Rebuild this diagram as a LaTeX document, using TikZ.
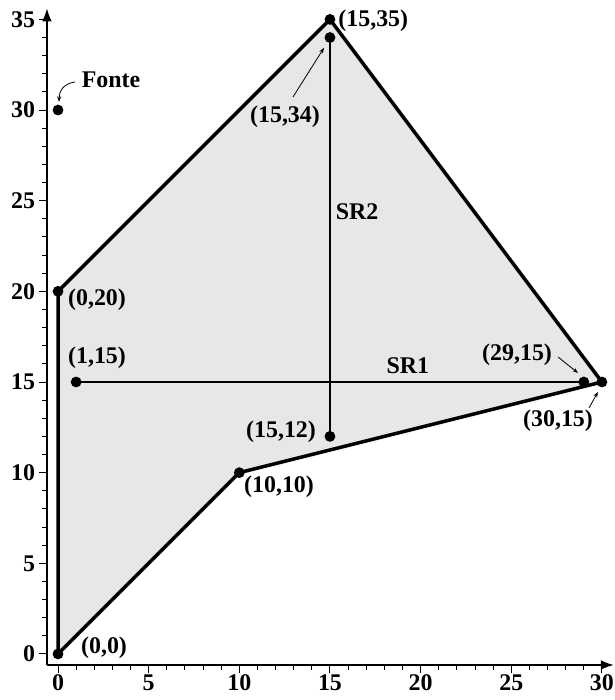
\documentclass[tikz,border=0pt]{standalone}
\usepackage{fontspec}
\setmainfont{Liberation Serif}
\usetikzlibrary{arrows.meta}
\definecolor{regiongray}{RGB}{230,231,232}
\tikzset{
  dot/.style={circle,fill=black,inner sep=0pt,minimum size=6.8pt},
  lbl/.style={font=\fontsize{15}{18}\selectfont\bfseries,inner sep=0pt},
  edge/.style={line width=2.2pt,line join=round},
  ray/.style={line width=1.2pt},
  pointer/.style={line width=0.5pt,-{Stealth[length=3.5pt,width=2.6pt]}},
  axis/.style={line width=0.8pt,-{Latex[length=8pt,width=6pt]}},
  majtick/.style={line width=0.6pt},
}
\begin{document}
\begin{tikzpicture}[x=0.4cm,y=0.4cm]
\useasboundingbox (-3.2,-2.54) rectangle (30.67,36.07);
% polygon corners
\coordinate (P0) at (0,0);
\coordinate (P1) at (0,20);
\coordinate (P2) at (15,35);
\coordinate (P3) at (30,15);
\coordinate (P4) at (10,10);
\fill[regiongray] (P0) -- (P1) -- (P2) -- (P3) -- (P4) -- cycle;
% axes
\coordinate (corner) at (-0.61,-0.61);
\coordinate (ytop) at (-0.61,35.6);
\coordinate (xend) at (30.65,-0.61);
\draw[axis] (corner) -- (ytop);
\draw[axis] (corner) -- (xend);
\foreach \i in {0,...,35}{\draw[majtick] (-0.61,\i) -- (-0.86,\i);}
\foreach \i in {0,5,...,35}{\draw[majtick] (-0.61,\i) -- (-1.05,\i);
  \node[lbl,anchor=east] (yl\i) at (-1.25,\i) {\i};}
\foreach \i in {0,...,29}{\draw[majtick] (\i,-0.61) -- (\i,-0.86);}
\foreach \i in {0,5,...,30}{\draw[majtick] (\i,-0.61) -- (\i,-1.05);
  \node[lbl] (xl\i) at (\i,-1.6) {\i};}
% polygon outline
\draw[edge] (P0) -- (P1) -- (P2) -- (P3) -- (P4) -- cycle;
% rays
\node[dot] (d115) at (1,15) {};
\node[dot] (d2915) at (29,15) {};
\node[dot] (d1534) at (15,34) {};
\node[dot] (d1512) at (15,12) {};
\draw[ray] (d115.center) -- (d2915.center);
\draw[ray] (d1534.center) -- (d1512.center);
% corner dots
\node[dot] (d00) at (P0) {};
\node[dot] (d020) at (P1) {};
\node[dot] (d1535) at (P2) {};
\node[dot] (d3015) at (P3) {};
\node[dot] (d1010) at (P4) {};
\node[dot] (src) at (0,30) {};
% labels
\node[lbl,anchor=west] (l1535) at (15.45,34.9) {(15,35)};
\node[lbl] (l1534) at (12.52,29.62) {(15,34)};
\node[lbl] (lfonte) at (2.92,31.66) {Fonte};
\node[lbl] (l020) at (2.15,19.53) {(0,20)};
\node[lbl] (l115) at (2.15,16.33) {(1,15)};
\node[lbl] (l2915) at (25.32,16.49) {(29,15)};
\node[lbl] (l3015) at (27.58,12.85) {(30,15)};
\node[lbl] (l1512) at (12.30,12.24) {(15,12)};
\node[lbl] (l1010) at (12.19,9.21) {(10,10)};
\node[lbl] (l00) at (2.54,0.33) {(0,0)};
\node[lbl] (sr1) at (19.3,15.89) {SR1};
\node[lbl] (sr2) at (16.5,24.4) {SR2};
% pointers
\coordinate (a1s) at (12.96,30.72); \coordinate (a1e) at (14.67,33.43);
\draw[pointer] (a1s) -- (a1e);
\coordinate (a2s) at (27.58,16.38); \coordinate (a2e) at (28.68,15.50);
\draw[pointer] (a2s) -- (a2e);
\coordinate (a3s) at (29.29,13.57); \coordinate (a3e) at (29.78,14.45);
\draw[pointer] (a3s) -- (a3e);
\coordinate (a4s) at (0.94,31.55); \coordinate (a4e) at (0.06,30.45);
\draw[pointer] (a4s) .. controls (0.25,31.45) and (0.06,31.0) .. (a4e);
\end{tikzpicture}
\end{document}
